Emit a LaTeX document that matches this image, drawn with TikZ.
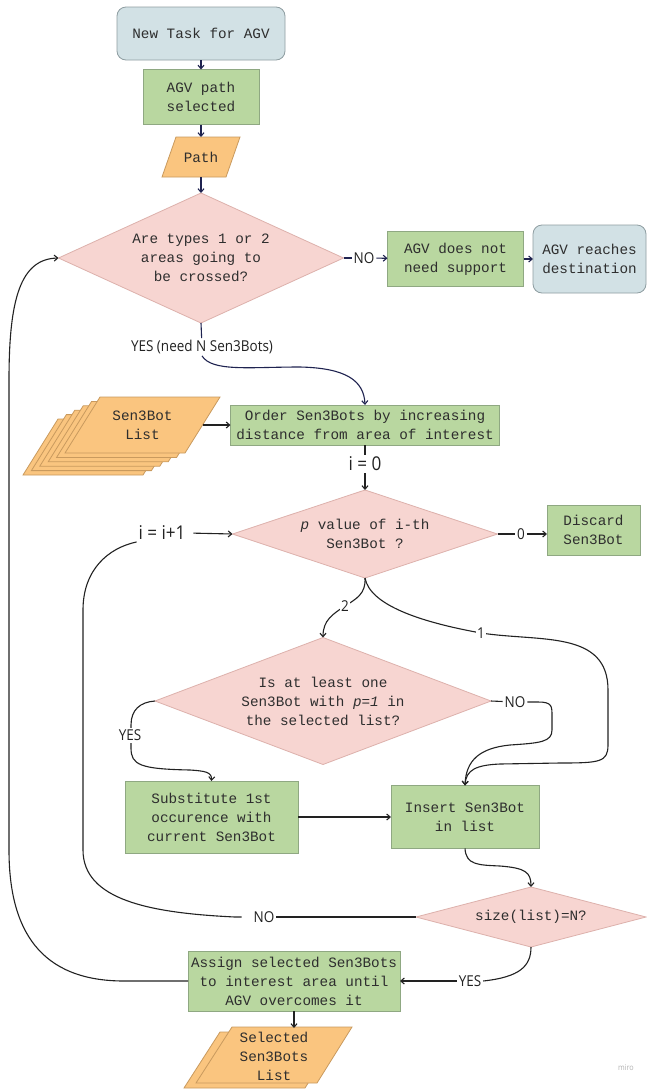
\documentclass[tikz,border=0pt]{standalone}
\usepackage{fontspec}
\setmainfont{Open Sans}
\newfontfamily\boxfont{Liberation Mono}
\newfontfamily\lblfont[FakeStretch=0.9]{Open Sans}
\usetikzlibrary{shapes.geometric,arrows.meta,calc}
\definecolor{navy}{HTML}{1F2350}
\definecolor{ink}{HTML}{222222}
\definecolor{bluefill}{HTML}{D2E1E5}
\definecolor{blueline}{HTML}{8E9DA1}
\definecolor{greenfill}{HTML}{B9D7A0}
\definecolor{greenline}{HTML}{8FA882}
\definecolor{orangefill}{HTML}{FAC57F}
\definecolor{orangeline}{HTML}{C99A5E}
\definecolor{pinkfill}{HTML}{F7D5D1}
\definecolor{pinkline}{HTML}{DDB1AC}
\definecolor{textc}{HTML}{2E2E2E}
\begin{document}
\begin{tikzpicture}[x=1pt,y=-1pt,
  every node/.style={inner sep=0pt, outer sep=0pt},
  boxtext/.style={font=\boxfont\fontsize{14.3}{19}\selectfont, text=textc, align=center},
  term/.style={boxtext, draw=blueline, fill=bluefill, rounded corners=9pt, line width=0.8pt},
  proc/.style={boxtext, draw=greenline, fill=greenfill, line width=0.8pt},
  dia/.style={diamond, draw=pinkline, fill=pinkfill, line width=0.8pt},
  para/.style={draw=orangeline, fill=orangefill, line width=0.8pt},
  lbl/.style={font=\lblfont\fontsize{15}{17}\selectfont, fill=white, inner sep=2pt, text=ink},
  biglbl/.style={font=\lblfont\fontsize{19}{21}\selectfont, fill=white, inner sep=2pt, text=ink},
  flow/.style={line width=1.1pt, draw=ink},
  navyflow/.style={line width=1.1pt, draw=navy},
  arr/.style={-{Straight Barb[length=3.5pt,width=6pt]}},
]
\fill[white] (0,0) rectangle (647,1090);
\useasboundingbox (0,0) rectangle (647,1090);

% ---- top part
\node[term, minimum width=168, minimum height=53] (nt) at (201,33.5) {New Task for AGV};
\node[proc, minimum width=116, minimum height=55] (ap) at (201,97) {AGV path\\selected};
\draw[para] (176,137) -- (240,137) -- (226,177) -- (162,177) -- cycle;
\node[boxtext, minimum width=64, minimum height=40] (path) at (201,157) {Path};
\node[dia, minimum width=285, minimum height=130] (d1) at (201,258) {};
\node[boxtext] (d1t) at (d1) {Are types 1 or 2\\areas going to\\be crossed?};
\node[proc, minimum width=136, minimum height=55] (nosup) at (455.5,259) {AGV does not\\need support};
\node[term, minimum width=113, minimum height=68] (dest) at (589.5,259) {AGV reaches\\destination};

\draw[navyflow,arr] (nt) -- (ap);
\draw[navyflow,arr] (ap) -- (path);
\draw[navyflow,arr] (path) -- (d1);
\node[lbl] (no1) at (364,258) {NO};
\draw[navyflow] (d1.east) -- (no1);
\draw[navyflow,arr] (no1) -- (nosup);
\draw[navyflow,arr] (nosup) -- (dest);

% ---- order
\node[proc, minimum width=269, minimum height=40] (order) at (365,425) {Order Sen3Bots by increasing\\distance from area of interest};
\node[lbl] (yes1) at (202,347) {YES (need N Sen3Bots)};
\draw[navyflow] (d1.south) -- (yes1);
\draw[navyflow,arr] (yes1.south) .. controls (212,372) and (250,367) .. (300,367) .. controls (345,368) and (364,380) .. (order.north);

\foreach \k in {5,4,3,2,1} {
  \draw[para, shift={(-8.4*\k,4.4*\k)}] (100,397) -- (220,397) -- (185,453) -- (65,453) -- cycle;
}
\draw[para] (100,397) -- (220,397) -- (185,453) -- (65,453) -- cycle;
\node[boxtext, minimum width=120, minimum height=56] (slist) at (142.5,425) {Sen3Bot\\List};
\draw[flow,arr] (slist) -- (order);

% ---- p value decision
\node[dia, minimum width=265, minimum height=88] (d2) at (365,534) {};
\node[boxtext] (d2t) at (d2) {\textit{p} value of i-th\\Sen3Bot ?};
\node[biglbl] (i0) at (365,464) {i = 0};
\draw[flow] (order) -- (i0);
\draw[flow,arr] (i0) -- (d2);

\node[proc, minimum width=93, minimum height=50] (disc) at (593.5,530) {Discard\\Sen3Bot};
\node[lbl] (zero) at (521,534) {0};
\draw[flow] (d2.east) -- (zero);
\draw[flow,arr] (zero) -- (zero -| disc.west);

\node[biglbl] (iinc) at (162,533) {i = i+1};
\draw[flow,arr,shorten <=6pt] (iinc.east) -- (d2.west);

% ---- p=1 decision
\node[dia, minimum width=336, minimum height=127] (d3) at (323,701) {};
\node[boxtext] (d3t) at (d3) {Is at least one\\Sen3Bot with \textit{p=1} in\\the selected list?};
\node[proc, minimum width=173, minimum height=72] (sub) at (211.5,817) {Substitute 1st\\occurence with\\current Sen3Bot};
\node[proc, minimum width=148, minimum height=63] (ins) at (465,817) {Insert Sen3Bot\\in list};

\draw[flow,arr] (d2.south) .. controls (366,594) and (356,599) .. (345,606) .. controls (333,614) and (323,620) .. (d3.north);
\node[lbl, inner sep=1.5pt] (two) at (345,606) {2};

\draw[flow,arr] (d2.south) .. controls (370,605) and (420,622) .. (481,633) .. controls (540,642) and (608,630) .. (608,690) -- (608,745) .. controls (608,762) and (600,763) .. (560,763) -- (500,764) .. controls (476,765) and (466,770) .. (ins.north);
\node[lbl, inner sep=1.5pt] (one) at (481,633) {1};

\node[lbl] (no3) at (515,702) {NO};
\draw[flow] (d3.east) -- (no3);
\draw[flow,arr] (no3.east) -- (538,702) .. controls (552,702) and (552,706) .. (552,716) -- (552,730) .. controls (552,742) and (540,743) .. (510,745) .. controls (480,748) and (466,760) .. (ins.north);

\draw[flow,arr] (d3.west) .. controls (140,702) and (131,710) .. (131,725) -- (131,748) .. controls (131,765) and (140,769) .. (190,770) .. controls (205,771) and (212,772) .. (sub.north);
\node[lbl] (yes3) at (130,735) {YES};

\draw[flow,arr] (sub) -- (ins);

% ---- size decision
\node[dia, minimum width=230, minimum height=60] (d4) at (531,917) {};
\node[boxtext] (d4t) at (d4) {size(list)=N?};
\draw[flow,arr] (ins.south) .. controls (466,865) and (478,865) .. (500,866) .. controls (525,868) and (531,872) .. (d4.north);

\node[lbl] (no4) at (264,917) {NO};
\draw[flow] (d4.west) -- (no4);
\draw[flow,shorten <=10pt] (no4.west) -- (235,917) .. controls (150,913) and (83,900) .. (83,850) -- (83,610) .. controls (83,570) and (108,548) .. (iinc.south west);

\node[proc, minimum width=212, minimum height=60] (assign) at (294,981) {Assign selected Sen3Bots\\to interest area until\\AGV overcomes it};
\node[lbl] (yes4) at (470,981) {YES};
\draw[flow] (d4.south) .. controls (531,966) and (520,977) .. (yes4.east);
\draw[flow,arr] (yes4.west) -- (assign.east);

\draw[flow,arr] (assign.west) -- (124,981) .. controls (40,981) and (9,930) .. (9,850) -- (9,380) .. controls (9,300) and (20,259) .. (d1.west);

% ---- selected list
\draw[para] (220,1032) -- (340,1032) -- (305,1088) -- (184,1088) -- cycle;
\draw[para] (232,1027) -- (352,1027) -- (317,1083) -- (196,1083) -- cycle;
\node[boxtext, minimum width=120, minimum height=56] (sel) at (274,1056) {Selected\\Sen3Bots\\List};
\draw[flow,arr] (assign.south) -- (assign.south |- sel.north);

\node[font=\lblfont\fontsize{8}{8}\selectfont, text=black!30] (miro) at (626,1068) {miro};
\end{tikzpicture}
\end{document}
